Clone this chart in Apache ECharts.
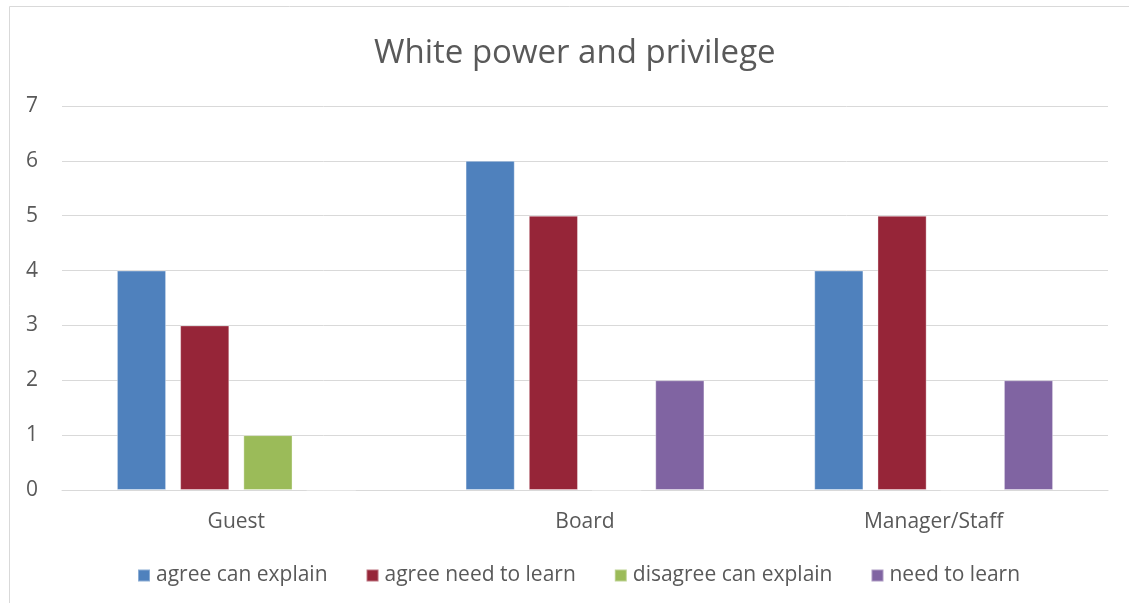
<!DOCTYPE html>
<html>
<head>
<meta charset="utf-8">
<script src="https://cdn.jsdelivr.net/npm/echarts@6/dist/echarts.min.js"></script>
<style>
  html, body { margin: 0; padding: 0; background: #fff; }
  #chart { width: 1129px; height: 603px; }
</style>
</head>
<body>
<div id="chart"></div>
<script>
// Survey responses by respondent group
const categories = ['Guest', 'Board', 'Manager/Staff'];
const seriesNames = ['agree can explain', 'agree need to learn', 'disagree can explain', 'need to learn'];
const agreeCanExplain = [4, 6, 4];
const agreeNeedToLearn = [3, 5, 5];
const disagreeCanExplain = [1, 0, 0];
const needToLearn = [0, 2, 2];
const yTicks = [0, 1, 2, 3, 4, 5, 6, 7];

const colors = ['#4F81BD', '#962538', '#9BBB59', '#8064A2'];
const values = [agreeCanExplain, agreeNeedToLearn, disagreeCanExplain, needToLearn];
const font = 'Open Sans';
const textColor = '#595959';

const chart = echarts.init(document.getElementById('chart'), null, { renderer: 'canvas' });

chart.setOption({
  animation: false,
  backgroundColor: '#fff',
  title: {
    text: 'White power and privilege',
    left: 369,
    top: 32,
    textStyle: { fontFamily: font, fontSize: 33, fontWeight: 'normal', color: textColor }
  },
  graphic: [{
    type: 'rect',
    shape: { x: 9.5, y: 6.5, width: 1200, height: 700 },
    style: { fill: 'none', stroke: '#D9D9D9', lineWidth: 1 },
    silent: true
  }],
  legend: {
    left: 137,
    top: 565,
    padding: 0,
    itemWidth: 12,
    itemHeight: 12,
    itemGap: 38,
    icon: 'rect',
    textStyle: { fontFamily: font, fontSize: 21, color: textColor, padding: [0, 0, 0, 1] },
    data: seriesNames
  },
  grid: { left: 62, right: 21, top: 106, bottom: 113, containLabel: false },
  xAxis: {
    type: 'category',
    data: categories,
    axisLine: { lineStyle: { color: '#D9D9D9', width: 1 } },
    axisTick: { show: false },
    axisLabel: { fontFamily: font, fontSize: 21, color: textColor, margin: 22 }
  },
  yAxis: {
    type: 'value',
    min: yTicks[0],
    max: yTicks[yTicks.length - 1],
    interval: 1,
    axisLine: { show: false },
    axisTick: { show: false },
    splitLine: { lineStyle: { color: '#D9D9D9', width: 1 } },
    axisLabel: { fontFamily: font, fontSize: 21, color: textColor, margin: 24 }
  },
  series: seriesNames.map((name, i) => ({
    name: name,
    type: 'bar',
    data: values[i],
    barGap: '28.6%',
    barCategoryGap: '31.5%',
    itemStyle: { color: colors[i], borderColor: 'rgba(255,255,255,0.35)', borderWidth: 1 }
  }))
});
</script>
</body>
</html>
